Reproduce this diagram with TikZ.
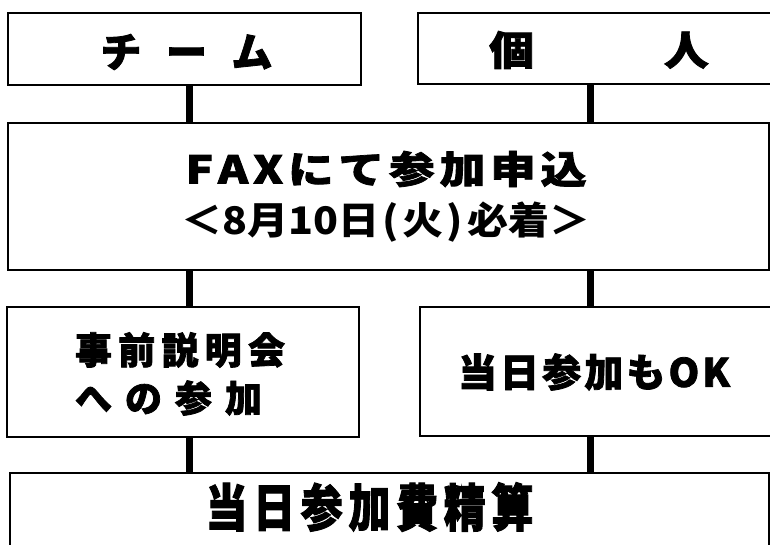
\documentclass[tikz,border=0pt]{standalone}
\usepackage{fontspec}
\newfontfamily\jp{Noto Sans CJK JP}[BoldFeatures={FakeBold=2}]
\newfontfamily\jpmed{Noto Sans CJK JP}
\begin{document}
\begin{tikzpicture}[x=1pt,y=-1pt,
  box/.style={draw=black, line width=2.6pt, inner sep=0pt, fill=none},
  conn/.style={draw=black, line width=7pt},
  txt/.style={inner sep=0pt, outer sep=0pt, text=black}]
\useasboundingbox (0,0) rectangle (770,544);
\fill[white] (0,0) rectangle (770,544);
\clip (0,0) rectangle (770,544);
% boxes
\node[box, minimum width=353pt, minimum height=72pt] (b1) at (184.5,49) {};
\node[box, minimum width=372pt, minimum height=71pt] (b2) at (604,48.5) {};
\node[box, minimum width=761pt, minimum height=147pt] (b3) at (388.5,196.5) {};
\node[box, minimum width=352pt, minimum height=130pt] (b4) at (183,372) {};
\node[box, minimum width=370pt, minimum height=129pt] (b5) at (605,371.5) {};
\node[box, minimum width=759pt, minimum height=97pt] (b6) at (389.5,521.5) {};
% connector columns
\coordinate (xl) at (189,0);
\coordinate (xr) at (590,0);
\draw[conn] (b1.south -| xl) -- (b3.north -| xl);
\draw[conn] (b2.south -| xr) -- (b3.north -| xr);
\draw[conn] (b3.south -| xl) -- (b4.north -| xl);
\draw[conn] (b3.south -| xr) -- (b5.north -| xr);
\draw[conn] (b4.south -| xl) -- (b6.north -| xl);
\draw[conn] (b5.south -| xr) -- (b6.north -| xr);
% texts
\node[txt] (t1) at (186.5,52) {\jp\bfseries\fontsize{41pt}{41pt}\selectfont\makebox[172pt][s]{チ\hfil ー\hfil ム}};
\node[txt] (t2) at (599,50) {\jp\bfseries\fontsize{40pt}{40pt}\selectfont\scalebox{1.12}[1]{\makebox[196pt][s]{個\hfil 人}}};
\node[txt] (t3a) at (386,169) {\jp\bfseries\fontsize{38pt}{38pt}\selectfont\scalebox{1.2}[1]{\makebox[334pt][s]{F\hfil A\hfil X\hfil に\hfil て\hfil 参\hfil 加\hfil 申\hfil 込}}};
\node[txt] (t3b) at (386,222) {\jpmed\bfseries\fontsize{38pt}{38pt}\selectfont\scalebox{1.08}[1]{＜8月10日\kern3pt(\kern3pt火\kern3pt)\kern4pt必着＞}};
\node[txt] (t4a) at (180,350) {\jp\bfseries\fontsize{37pt}{37pt}\selectfont\makebox[210pt][s]{事\hfil 前\hfil 説\hfil 明\hfil 会}};
\node[txt, anchor=west] (t4b) at (75,398) {\jp\bfseries\fontsize{37pt}{37pt}\selectfont\makebox[187pt][s]{へ\hfil の\hfil 参\hfil 加}};
\node[txt] (t5) at (594,372) {\jp\bfseries\fontsize{39pt}{39pt}\selectfont\makebox[272pt][s]{当\hfil 日\hfil 参\hfil 加\hfil も\hfil O\hfil K}};
\node[txt] (t6) at (369.5,507) {\jp\bfseries\fontsize{42pt}{42pt}\selectfont\scalebox{1}[1.22]{\makebox[328pt][s]{当\hfil 日\hfil 参\hfil 加\hfil 費\hfil 精\hfil 算}}};
\end{tikzpicture}
\end{document}
